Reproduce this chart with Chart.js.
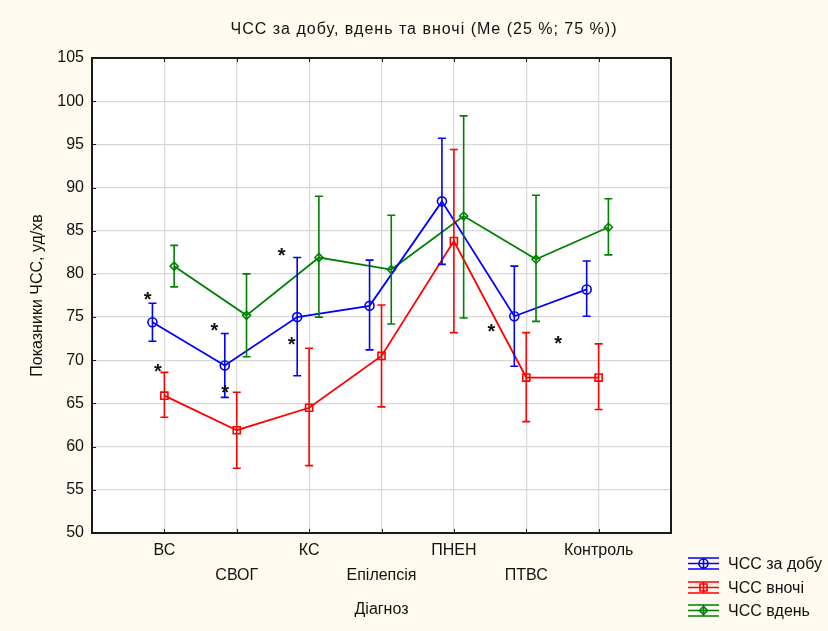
<!DOCTYPE html>
<html>
<head>
<meta charset="utf-8">
<script src="https://cdn.jsdelivr.net/npm/chart.js@4/dist/chart.umd.min.js"></script>
<style>
  body{margin:0;background:#fffaf0;}
  #myChart{display:block;}
</style>
</head>
<body>
<canvas id="myChart" width="828" height="631"></canvas>
<script>
// діагнози по осі X
var v_diag = ["ВС","СВОГ","КС","Епілепсія","ПНЕН","ПТВС","Контроль"];

// ЧСС за добу: медіана, 25 %, 75 %
var v_dobu_me  = [74.4, 69.4, 75.0, 76.3, 88.4, 75.1, 78.2];
var v_dobu_q25 = [72.2, 65.7, 68.2, 71.2, 81.1, 69.3, 75.1];
var v_dobu_q75 = [76.6, 73.1, 81.9, 81.6, 95.7, 80.9, 81.5];

// ЧСС вночі
var v_nich_me  = [65.9, 61.9, 64.5, 70.5, 83.8, 68.0, 68.0];
var v_nich_q25 = [63.4, 57.5, 57.8, 64.6, 73.2, 62.9, 64.3];
var v_nich_q75 = [68.6, 66.3, 71.4, 76.4, 94.4, 73.2, 71.9];

// ЧСС вдень
var v_den_me  = [80.9, 75.2, 81.9, 80.5, 86.7, 81.7, 85.4];
var v_den_q25 = [78.5, 70.4, 75.0, 74.2, 74.9, 74.5, 82.2];
var v_den_q75 = [83.3, 80.0, 89.0, 86.8, 98.3, 89.1, 88.7];

// зірочки (позиція діагнозу, значення)
var v_stars = [[0.77,77.6],[0.91,69.2],[1.69,74.0],[1.84,66.8],[2.62,82.7],[2.76,72.3],[5.52,73.8],[6.44,72.5]];

var v_font = "'Liberation Sans', Arial, sans-serif";

// точки серії зі зсувом по X
function f_points(p_me, p_shift){
  var v_arr = [];
  for(var i=0; i<p_me.length; i++){
    v_arr.push({x: i+1+p_shift, y: p_me[i]});
  }
  return v_arr;
}

function f_set(p_label, p_color, p_style, p_radius, p_me, p_lo, p_hi, p_shift){
  return {
    label: p_label,
    data: f_points(p_me, p_shift),
    v_lo: p_lo,
    v_hi: p_hi,
    borderColor: p_color,
    backgroundColor: "rgba(0,0,0,0)",
    borderWidth: 1.8,
    pointStyle: p_style,
    pointRadius: p_radius,
    pointBorderWidth: 1.6,
    pointBorderColor: p_color,
    pointBackgroundColor: "rgba(0,0,0,0)",
    tension: 0
  };
}

// плагін: фон, рамка, вуси, зірочки, заголовок, легенда
var v_extra = {
  id: "extra",
  beforeDraw: function(chart){
    var c = chart.ctx, a = chart.chartArea;
    c.save();
    c.fillStyle = "#ffffff";
    c.fillRect(a.left, a.top, a.right-a.left, a.bottom-a.top);
    c.restore();
  },
  beforeDatasetsDraw: function(chart){
    var c = chart.ctx, a = chart.chartArea;
    var sx = chart.scales.x, sy = chart.scales.y;
    c.save();
    c.strokeStyle = "#1a1a1a";
    c.lineWidth = 1;
    c.beginPath();
    for(var k=1; k<8; k++){
      var px = Math.round(sx.getPixelForValue(k))+0.5;
      c.moveTo(px, a.bottom); c.lineTo(px, a.bottom-4);
      c.moveTo(px, a.top); c.lineTo(px, a.top+4);
    }
    for(var v=55; v<105; v+=5){
      var py = Math.round(sy.getPixelForValue(v))+0.5;
      c.moveTo(a.left, py); c.lineTo(a.left+4, py);
    }
    c.stroke();
    c.lineWidth = 2;
    c.strokeRect(a.left, a.top, a.right-a.left, a.bottom-a.top);
    c.restore();
  },
  afterDatasetsDraw: function(chart){
    var c = chart.ctx;
    var sx = chart.scales.x, sy = chart.scales.y;
    c.save();
    chart.data.datasets.forEach(function(ds){
      c.strokeStyle = ds.borderColor;
      c.lineWidth = 1.6;
      c.beginPath();
      for(var i=0; i<ds.data.length; i++){
        var px = sx.getPixelForValue(ds.data[i].x);
        var y1 = sy.getPixelForValue(ds.v_lo[i]);
        var y2 = sy.getPixelForValue(ds.v_hi[i]);
        c.moveTo(px, y1); c.lineTo(px, y2);
        c.moveTo(px-4, y1); c.lineTo(px+4, y1);
        c.moveTo(px-4, y2); c.lineTo(px+4, y2);
      }
      c.stroke();
    });
    // зірочки
    c.fillStyle = "#111";
    c.font = "bold 20px " + v_font;
    c.textAlign = "center";
    c.textBaseline = "alphabetic";
    for(var s=0; s<v_stars.length; s++){
      var qx = sx.getPixelForValue(v_stars[s][0]);
      var qy = sy.getPixelForValue(v_stars[s][1]);
      c.fillText("*", qx, qy + 11);
    }
    c.restore();
  },
  afterDraw: function(chart){
    var c = chart.ctx;
    c.save();
    c.fillStyle = "#111";
    c.font = "16px " + v_font;
    c.textAlign = "center";
    c.textBaseline = "middle";
    c.letterSpacing = "1px";
    c.fillText("ЧСС за добу, вдень та вночі (Me (25 %; 75 %))", 424, 30);
    c.letterSpacing = "0px";
    // легенда
    var v_rows = [563.5, 587.5, 610.5];
    chart.data.datasets.forEach(function(ds, i){
      var cy = v_rows[i], cx = 703.5;
      c.strokeStyle = ds.borderColor;
      c.lineWidth = 1.6;
      c.beginPath();
      c.moveTo(688, cy-5.5); c.lineTo(719, cy-5.5);
      c.moveTo(688, cy); c.lineTo(719, cy);
      c.moveTo(688, cy+5.5); c.lineTo(719, cy+5.5);
      c.moveTo(cx, cy-5.5); c.lineTo(cx, cy+5.5);
      c.stroke();
      c.fillStyle = "rgba(0,0,0,0)";
      Chart.helpers.drawPoint(c, {pointStyle: ds.pointStyle, radius: ds.pointRadius, borderWidth: 1.6}, cx, cy);
      c.fillStyle = "#111";
      c.textAlign = "left";
      c.fillText(ds.label, 728, cy+1);
    });
    c.restore();
  }
};

var ctx = document.getElementById("myChart").getContext("2d");
var myChart = new Chart(ctx, {
  type: "line",
  data: {
    datasets: [
      f_set("ЧСС за добу", "#0000ff", "circle", 4.5, v_dobu_me, v_dobu_q25, v_dobu_q75, -0.165),
      f_set("ЧСС вночі", "#ff0000", "rect", 5, v_nich_me, v_nich_q25, v_nich_q75, 0),
      f_set("ЧСС вдень", "#008000", "rectRot", 4, v_den_me, v_den_q25, v_den_q75, 0.135)
    ]
  },
  options: {
    responsive: false,
    animation: false,
    layout: {padding: {top: 58, right: 157, left: 0, bottom: 0}},
    plugins: {legend: {display: false}, tooltip: {enabled: false}},
    scales: {
      x: {
        type: "linear", min: 0, max: 8,
        afterFit: function(s){ s.height = 98; },
        grid: {color: "#d8d8d8", lineWidth: 1.2, drawTicks: false},
        border: {display: false},
        ticks: {
          stepSize: 1, autoSkip: false, maxRotation: 0, padding: 5,
          color: "#111", font: {family: v_font, size: 16, lineHeight: 1.5625},
          callback: function(v){
            if(v < 1 || v > 7) return "";
            var v_name = v_diag[v-1];
            return (v % 2 == 1) ? v_name : ["", v_name];
          }
        },
        title: {display: true, text: "Діагноз", color: "#111",
                font: {family: v_font, size: 16}, padding: {top: 0, bottom: 12}}
      },
      y: {
        min: 50, max: 105,
        afterFit: function(s){ s.width = 92; },
        grid: {color: "#d8d8d8", lineWidth: 1.2, drawTicks: false},
        border: {display: false},
        ticks: {stepSize: 5, padding: 8, color: "#111", font: {family: v_font, size: 16}},
        title: {display: true, text: "Показники ЧСС, уд/хв", color: "#111",
                font: {family: v_font, size: 16}, padding: {top: 28, bottom: 0}}
      }
    }
  },
  plugins: [v_extra]
});
</script>
</body>
</html>
